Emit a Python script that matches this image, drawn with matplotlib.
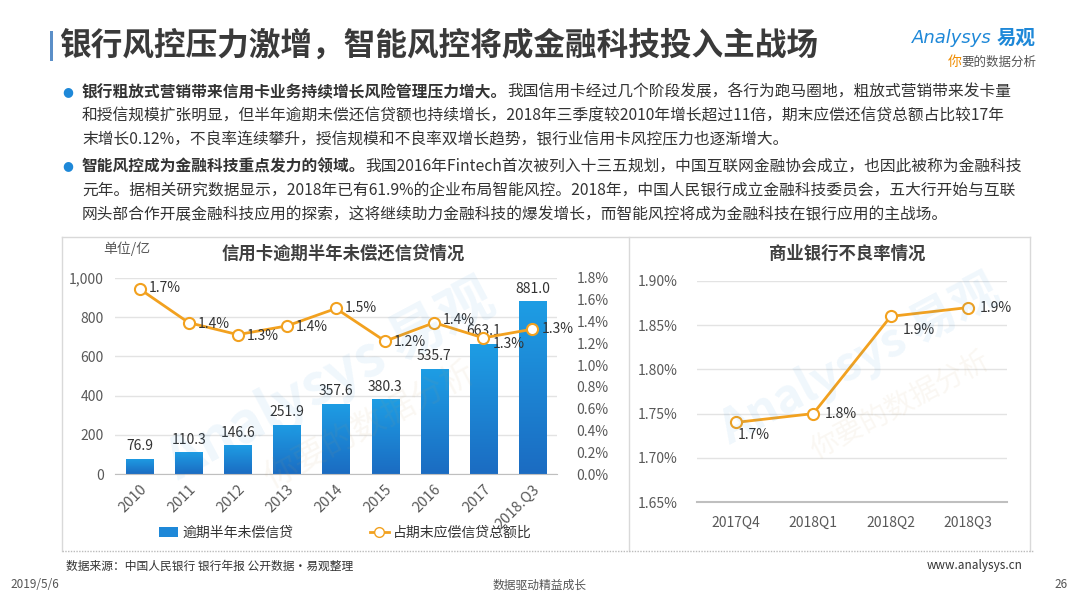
import matplotlib
matplotlib.use('Agg')
import matplotlib.pyplot as plt
import numpy as np
from matplotlib.patches import Rectangle, Patch
from matplotlib.lines import Line2D
from matplotlib.colors import LinearSegmentedColormap

plt.rcParams['font.family'] = ['Noto Sans CJK SC', 'DejaVu Sans']

W, H = 1080, 607

# data
years = ['2010', '2011', '2012', '2013', '2014', '2015', '2016', '2017', '2018.Q3']
overdue = [76.9, 110.3, 146.6, 251.9, 357.6, 380.3, 535.7, 663.1, 881.0]
ratio = [1.70, 1.39, 1.28, 1.36, 1.52, 1.22, 1.39, 1.25, 1.33]
ratio_labels = ['1.7%', '1.4%', '1.3%', '1.4%', '1.5%', '1.2%', '1.4%', '1.3%', '1.3%']
quarters = ['2017Q4', '2018Q1', '2018Q2', '2018Q3']
npl = [1.74, 1.75, 1.86, 1.87]
npl_labels = ['1.7%', '1.8%', '1.9%', '1.9%']

BLUE = '#1E88D8'
ORANGE = '#F2A11F'
TXT = '#333333'
TICK = '#595959'
GRID = '#E3E3E3'


def box(x0, y0, x1, y1):
    return [x0 / W, 1 - y1 / H, (x1 - x0) / W, (y1 - y0) / H]


def fx(x):
    return x / W


def fy(y):
    return 1 - y / H


fig = plt.figure(figsize=(W / 100, H / 100), dpi=100)
fig.patch.set_facecolor('white')

# title
fig.add_artist(Rectangle((fx(50), fy(61)), 3 / W, 30 / H, transform=fig.transFigure,
                         color='#5B8FC8', lw=0))
fig.text(fx(59), fy(46), '银行风控压力激增，智能风控将成金融科技投入主战场',
         fontsize=22.8, fontweight='bold', color='#3A3A3A', va='center', ha='left')

# logo
fig.text(fx(992), fy(38), 'Analysys', fontsize=13, color=BLUE, style='italic',
         ha='right', va='center', family=['DejaVu Sans'])
fig.text(fx(997), fy(38), '易观', fontsize=14, color=BLUE, fontweight='bold',
         ha='left', va='center')
fig.text(fx(948), fy(62), '你', fontsize=10, color='#F08C00', ha='left', va='center')
fig.text(fx(961), fy(62), '要的数据分析', fontsize=9, color='#555555', ha='left',
         va='center')

# body text
fs = 11.3
body = [
    (92, '银行粗放式营销带来信用卡业务持续增长风险管理压力增大。',
     '我国信用卡经过几个阶段发展，各行为跑马圈地，粗放式营销带来发卡量'),
    (116, None, '和授信规模扩张明显，但半年逾期未偿还信贷额也持续增长，2018年三季度较2010年增长超过11倍，期末应偿还信贷总额占比较17年'),
    (140, None, '末增长0.12%，不良率连续攀升，授信规模和不良率双增长趋势，银行业信用卡风控压力也逐渐增大。'),
    (166, '智能风控成为金融科技重点发力的领域。',
     '我国2016年Fintech首次被列入十三五规划，中国互联网金融协会成立，也因此被称为金融科技'),
    (191, None, '元年。据相关研究数据显示，2018年已有61.9%的企业布局智能风控。2018年，中国人民银行成立金融科技委员会，五大行开始与互联'),
    (215, None, '网头部合作开展金融科技应用的探索，这将继续助力金融科技的爆发增长，而智能风控将成为金融科技在银行应用的主战场。'),
]
for y, bold, rest in body:
    if bold:
        fig.text(fx(68), fy(y), '●', fontsize=9, color=BLUE, ha='center', va='center',
                 family=['DejaVu Sans'])
        b = fig.text(fx(82), fy(y), bold, fontsize=fs, fontweight='bold', color=TXT,
                     ha='left', va='center')
        fig.add_artist(plt.Annotation(rest, xy=(1, 0.5), xycoords=b, ha='left',
                                      va='center', fontsize=fs, color=TXT))
    else:
        fig.text(fx(82), fy(y), rest, fontsize=fs, color=TXT, ha='left', va='center')

# panel borders
border = '#D9D9D9'
fig.add_artist(Line2D([fx(62), fx(1030)], [fy(237), fy(237)], color=border, lw=1))
fig.add_artist(Line2D([fx(62), fx(62)], [fy(237), fy(551)], color=border, lw=1))
fig.add_artist(Line2D([fx(629), fx(629)], [fy(237), fy(551)], color=border, lw=1))
fig.add_artist(Line2D([fx(1030), fx(1030)], [fy(237), fy(551)], color=border, lw=1))
fig.add_artist(Line2D([fx(62), fx(1034)], [fy(551), fy(551)], color='#BBBBBB', lw=1,
                      ls=(0, (1, 1))))

# watermark
for cx, cy, sz in [(330, 380, 40), (860, 360, 34)]:
    fig.text(fx(cx), fy(cy), 'Analysys 易观', fontsize=sz, color=BLUE, alpha=0.07,
             rotation=28, ha='center', va='center', fontweight='bold')
    fig.text(fx(cx + 40), fy(cy + 45), '你要的数据分析', fontsize=sz * 0.6, color='#C8A060',
             alpha=0.08, rotation=28, ha='center', va='center')

# left chart
ax = fig.add_axes(box(115, 278, 557, 474))
x = np.arange(len(years))
bars = ax.bar(x, overdue, width=0.55, color=BLUE, zorder=2)
cmap = LinearSegmentedColormap.from_list('bg', ['#1B6CC2', '#1E9DE4'])
grad = np.linspace(0, 1, 100).reshape(-1, 1)
for r in bars:
    bx, bw, bh = r.get_x(), r.get_width(), r.get_height()
    im = ax.imshow(grad, cmap=cmap, origin='lower', aspect='auto',
                   extent=[bx, bx + bw, 0, bh], zorder=2.1)
    im.set_clip_path(r)
ax.set_xlim(-0.5, len(years) - 0.5)
ax.set_ylim(0, 1000)
ax.set_yticks(range(0, 1001, 200))
ax.set_yticklabels(['0', '200', '400', '600', '800', '1,000'])
ax.grid(axis='y', color=GRID, lw=1, zorder=0)
ax.set_axisbelow(True)
for s in ['top', 'right', 'left']:
    ax.spines[s].set_visible(False)
ax.spines['bottom'].set_color('#BFBFBF')
ax.tick_params(axis='both', length=0, labelsize=10, colors=TICK, pad=8)
ax.set_xticks(x)
ax.set_xticklabels(years, rotation=45, ha='right', va='top', rotation_mode='anchor')
ax.tick_params(axis='x', pad=6, labelsize=10.5)
for xi, v in zip(x, overdue):
    ax.annotate(f'{v:.1f}', (xi, v), xytext=(0, 4), textcoords='offset points',
                ha='center', va='bottom', fontsize=10, color=TXT)

ax2 = ax.twinx()
ax2.plot(x, ratio, color=ORANGE, lw=2, marker='o', ms=8, mfc='white', mec=ORANGE,
         mew=1.5, zorder=3)
ax2.set_ylim(0, 1.8)
ax2.set_yticks(np.arange(0, 1.81, 0.2))
ax2.set_yticklabels([f'{v:.1f}%' for v in np.arange(0, 1.81, 0.2)])
for s in ax2.spines.values():
    s.set_visible(False)
ax2.tick_params(axis='y', length=0, labelsize=10, colors=TICK, pad=14)
label_dy = [1, -1, -1, -1, 0, -1, 3, -6, 0]
for xi, v, lab, dy in zip(x, ratio, ratio_labels, label_dy):
    ax2.annotate(lab, (xi, v), xytext=(9, dy), textcoords='offset pixels',
                 ha='left', va='center', fontsize=10, color=TXT)

fig.text(fx(343), fy(254), '信用卡逾期半年未偿还信贷情况', fontsize=12.5, fontweight='bold',
         color='#404040', ha='center', va='center')
fig.text(fx(103), fy(249), '单位/亿', fontsize=10, color=TICK, ha='left', va='center')

handles = [Patch(facecolor=BLUE, edgecolor='none'),
           Line2D([0], [0], color=ORANGE, lw=2, marker='o', ms=7, mfc='white', mec=ORANGE)]
ax.legend(handles, ['逾期半年未偿信贷', '占期末应偿信贷总额比'], loc='center left',
          bbox_to_anchor=(fx(146), fy(533)), bbox_transform=fig.transFigure, ncol=2,
          frameon=False, fontsize=10, columnspacing=5.5, handlelength=1.4,
          handletextpad=0.3, labelcolor=TXT)

# right chart
bx_ = fig.add_axes(box(697, 281, 1007, 502))
q = np.arange(len(quarters))
bx_.plot(q, npl, color=ORANGE, lw=2, marker='o', ms=8, mfc='white', mec=ORANGE,
         mew=1.5, zorder=3)
bx_.set_xlim(-0.5, len(quarters) - 0.5)
bx_.set_ylim(1.65, 1.90)
yt = np.arange(1.65, 1.901, 0.05)
bx_.set_yticks(yt)
bx_.set_yticklabels([f'{v:.2f}%' for v in yt])
bx_.set_xticks(q)
bx_.set_xticklabels(quarters)
bx_.grid(axis='y', color=GRID, lw=1, zorder=0)
for s in ['top', 'right', 'left']:
    bx_.spines[s].set_visible(False)
bx_.spines['bottom'].set_color('#BFBFBF')
bx_.spines['bottom'].set_linewidth(1.5)
bx_.tick_params(axis='both', length=0, labelsize=10, colors=TICK)
bx_.tick_params(axis='y', pad=14)
bx_.tick_params(axis='x', pad=10)
offsets = [(2, -13, 'left'), (12, 0, 'left'), (12, -14, 'left'), (12, 0, 'left')]
for qi, v, lab, (dx, dy, ha) in zip(q, npl, npl_labels, offsets):
    bx_.annotate(lab, (qi, v), xytext=(dx, dy), textcoords='offset pixels',
                 ha=ha, va='center', fontsize=10, color=TXT)
fig.text(fx(847), fy(254), '商业银行不良率情况', fontsize=12.5, fontweight='bold',
         color='#404040', ha='center', va='center')

# footer
fig.text(fx(66), fy(566), '数据来源：中国人民银行 银行年报 公开数据•易观整理', fontsize=8.5,
         color=TXT, ha='left', va='center')
fig.text(fx(1023), fy(566), 'www.analysys.cn', fontsize=8.5, color=TXT, ha='right',
         va='center')
fig.text(fx(10), fy(584), '2019/5/6', fontsize=8.5, color='#555555', ha='left', va='center')
fig.text(fx(540), fy(585), '数据驱动精益成长', fontsize=8.5, color='#555555', ha='center',
         va='center')
fig.text(fx(1068), fy(584), '26', fontsize=8.5, color='#555555', ha='right', va='center')

fig.savefig('out.png', dpi=100, facecolor='white')
